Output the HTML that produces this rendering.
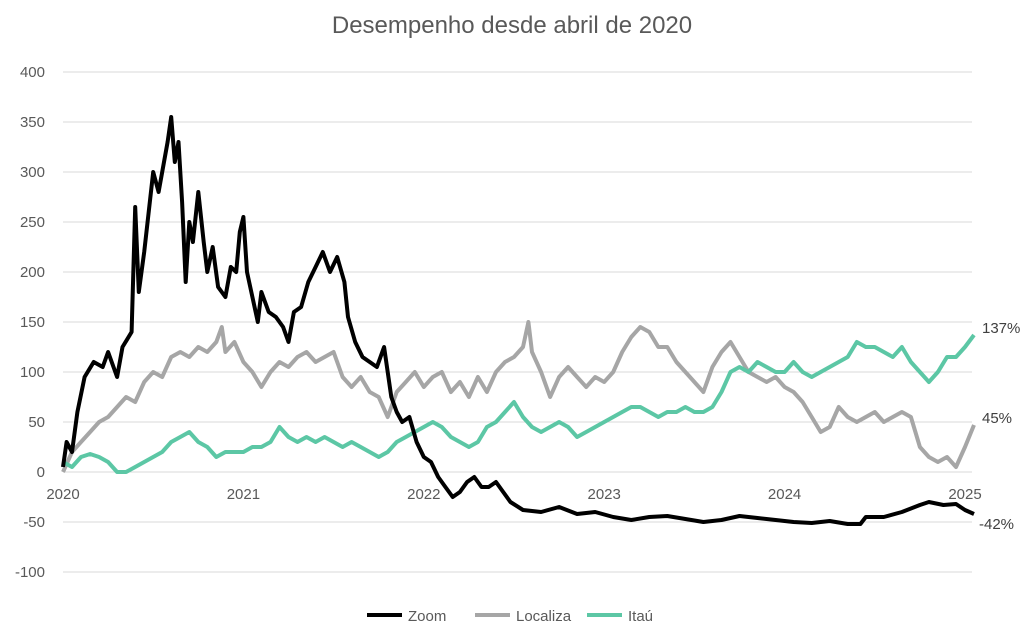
<!DOCTYPE html>
<html><head><meta charset="utf-8"><style>
body{margin:0;background:#fff;font-family:"Liberation Sans",sans-serif;}
svg text{font-family:"Liberation Sans",sans-serif;}
</style></head><body>
<svg width="1024" height="635">
<text x="512" y="33" text-anchor="middle" font-size="24" fill="#595959">Desempenho desde abril de 2020</text>
<g id="grid"></g>
<g id="yticks"></g>
<g id="xticks"></g>
<g id="series"></g>
<g id="endlabels"></g>
<g>
<g><line x1="367" y1="615" x2="402" y2="615" stroke="#000" stroke-width="4"/><text x="408" y="621" font-size="15" fill="#595959">Zoom</text></g>
<g><line x1="475" y1="615" x2="510" y2="615" stroke="#a6a6a6" stroke-width="4"/><text x="516" y="621" font-size="15" fill="#595959">Localiza</text></g>
<g><line x1="587" y1="615" x2="622" y2="615" stroke="#5cc7a5" stroke-width="4"/><text x="628" y="621" font-size="15" fill="#595959">Itaú</text></g>
</g>
</svg>
<script>
const yTicks=[400,350,300,250,200,150,100,50,0,-50,-100];
const xTicks=[2020,2021,2022,2023,2024,2025];
const zoomT=[2020,2020.02,2020.05,2020.08,2020.12,2020.17,2020.22,2020.25,2020.3,2020.33,2020.38,2020.4,2020.42,2020.45,2020.5,2020.53,2020.55,2020.58,2020.6,2020.62,2020.64,2020.66,2020.68,2020.7,2020.72,2020.75,2020.78,2020.8,2020.83,2020.86,2020.9,2020.93,2020.96,2020.98,2021,2021.02,2021.05,2021.08,2021.1,2021.14,2021.18,2021.22,2021.25,2021.28,2021.32,2021.36,2021.4,2021.44,2021.48,2021.52,2021.56,2021.58,2021.62,2021.66,2021.7,2021.74,2021.78,2021.8,2021.82,2021.85,2021.88,2021.92,2021.96,2022,2022.04,2022.08,2022.12,2022.16,2022.2,2022.24,2022.28,2022.32,2022.36,2022.4,2022.44,2022.48,2022.55,2022.65,2022.75,2022.85,2022.95,2023.05,2023.15,2023.25,2023.35,2023.45,2023.55,2023.65,2023.75,2023.85,2023.95,2024.05,2024.15,2024.25,2024.35,2024.42,2024.45,2024.55,2024.65,2024.75,2024.8,2024.88,2024.95,2025,2025.05];
const zoomV=[5,30,20,60,95,110,105,120,95,125,140,265,180,220,300,280,300,330,355,310,330,270,190,250,230,280,230,200,225,185,175,205,200,240,255,200,175,150,180,160,155,145,130,160,165,190,205,220,200,215,190,155,130,115,110,105,125,100,75,60,50,55,30,15,10,-5,-15,-25,-20,-10,-5,-15,-15,-10,-20,-30,-38,-40,-35,-42,-40,-45,-48,-45,-44,-47,-50,-48,-44,-46,-48,-50,-51,-49,-52,-52,-45,-45,-40,-33,-30,-33,-32,-38,-42];
const locT=[2020,2020.05,2020.1,2020.15,2020.2,2020.25,2020.3,2020.35,2020.4,2020.45,2020.5,2020.55,2020.6,2020.65,2020.7,2020.75,2020.8,2020.85,2020.88,2020.9,2020.95,2021,2021.05,2021.1,2021.15,2021.2,2021.25,2021.3,2021.35,2021.4,2021.45,2021.5,2021.55,2021.6,2021.65,2021.7,2021.75,2021.8,2021.85,2021.9,2021.95,2022,2022.05,2022.1,2022.15,2022.2,2022.25,2022.3,2022.35,2022.4,2022.45,2022.5,2022.55,2022.58,2022.6,2022.65,2022.7,2022.75,2022.8,2022.85,2022.9,2022.95,2023,2023.05,2023.1,2023.15,2023.2,2023.25,2023.3,2023.35,2023.4,2023.45,2023.5,2023.55,2023.6,2023.65,2023.7,2023.75,2023.8,2023.85,2023.9,2023.95,2024,2024.05,2024.1,2024.15,2024.2,2024.25,2024.3,2024.35,2024.4,2024.45,2024.5,2024.55,2024.6,2024.65,2024.7,2024.75,2024.8,2024.85,2024.9,2024.95,2025,2025.05];
const locV=[0,20,30,40,50,55,65,75,70,90,100,95,115,120,115,125,120,130,145,120,130,110,100,85,100,110,105,115,120,110,115,120,95,85,95,80,75,55,80,90,100,85,95,100,80,90,75,95,80,100,110,115,125,150,120,100,75,95,105,95,85,95,90,100,120,135,145,140,125,125,110,100,90,80,105,120,130,115,100,95,90,95,85,80,70,55,40,45,65,55,50,55,60,50,55,60,55,25,15,10,15,5,25,47];
const itaT=[2020,2020.05,2020.1,2020.15,2020.2,2020.25,2020.3,2020.35,2020.4,2020.45,2020.5,2020.55,2020.6,2020.65,2020.7,2020.75,2020.8,2020.85,2020.9,2020.95,2021,2021.05,2021.1,2021.15,2021.2,2021.25,2021.3,2021.35,2021.4,2021.45,2021.5,2021.55,2021.6,2021.65,2021.7,2021.75,2021.8,2021.85,2021.9,2021.95,2022,2022.05,2022.1,2022.15,2022.2,2022.25,2022.3,2022.35,2022.4,2022.45,2022.5,2022.55,2022.6,2022.65,2022.7,2022.75,2022.8,2022.85,2022.9,2022.95,2023,2023.05,2023.1,2023.15,2023.2,2023.25,2023.3,2023.35,2023.4,2023.45,2023.5,2023.55,2023.6,2023.65,2023.7,2023.75,2023.8,2023.85,2023.9,2023.95,2024,2024.05,2024.1,2024.15,2024.2,2024.25,2024.3,2024.35,2024.4,2024.45,2024.5,2024.55,2024.6,2024.65,2024.7,2024.75,2024.8,2024.85,2024.9,2024.95,2025,2025.05];
const itaV=[10,5,15,18,15,10,0,0,5,10,15,20,30,35,40,30,25,15,20,20,20,25,25,30,45,35,30,35,30,35,30,25,30,25,20,15,20,30,35,40,45,50,45,35,30,25,30,45,50,60,70,55,45,40,45,50,45,35,40,45,50,55,60,65,65,60,55,60,60,65,60,60,65,80,100,105,100,110,105,100,100,110,100,95,100,105,110,115,130,125,125,120,115,125,110,100,90,100,115,115,125,137];
const endLabels=["137%","45%","-42%"];

const X=t=>63+(t-2020)*180.4;
const Y=v=>472-v;
const NS="http://www.w3.org/2000/svg";
function mk(tag,attrs,parent){const e=document.createElementNS(NS,tag);for(const k in attrs)e.setAttribute(k,attrs[k]);parent.appendChild(e);return e;}
const grid=document.getElementById('grid'),yt=document.getElementById('yticks'),xt=document.getElementById('xticks'),ser=document.getElementById('series'),el=document.getElementById('endlabels');
yTicks.forEach(v=>{
  const l=mk('line',{x1:63,x2:972,y1:Y(v),y2:Y(v),stroke:'#d9d9d9','stroke-width':1},grid);
  
  
  const t=mk('text',{x:45,y:Y(v)+5,'text-anchor':'end','font-size':15,fill:'#595959'},yt);
  t.textContent=v;
  
  
});
xTicks.forEach(v=>{
  const t=mk('text',{x:X(v),y:499,'text-anchor':'middle','font-size':15,fill:'#595959'},xt);
  t.textContent=v;
  
  
});
function line(T,V,color,name){
  const p=mk('polyline',{points:T.map((t,i)=>X(t).toFixed(1)+','+Y(V[i]).toFixed(1)).join(' '),fill:'none',stroke:color,'stroke-width':4,'stroke-linejoin':'round'},ser);
  
  
}
line(locT,locV,'#a6a6a6','localiza-line');
line(itaT,itaV,'#5cc7a5','itau-line');
line(zoomT,zoomV,'#000000','zoom-line');
const ends=[[itaT,itaV],[locT,locV],[zoomT,zoomV]];
ends.forEach((s,i)=>{
  const v=s[1][s[1].length-1];
  const t=mk('text',{x:980,y:Y(v)+(i==2?55:-40+ (i==1?-10:0)),'font-size':15,fill:'#404040'},el);
  t.setAttribute('y',i==0?Y(v)-2:(i==1?Y(v)-2:Y(v)+15));
  t.setAttribute('x',i==2?979:982);
  t.textContent=endLabels[i];
  
  
});
</script>
</body></html>
